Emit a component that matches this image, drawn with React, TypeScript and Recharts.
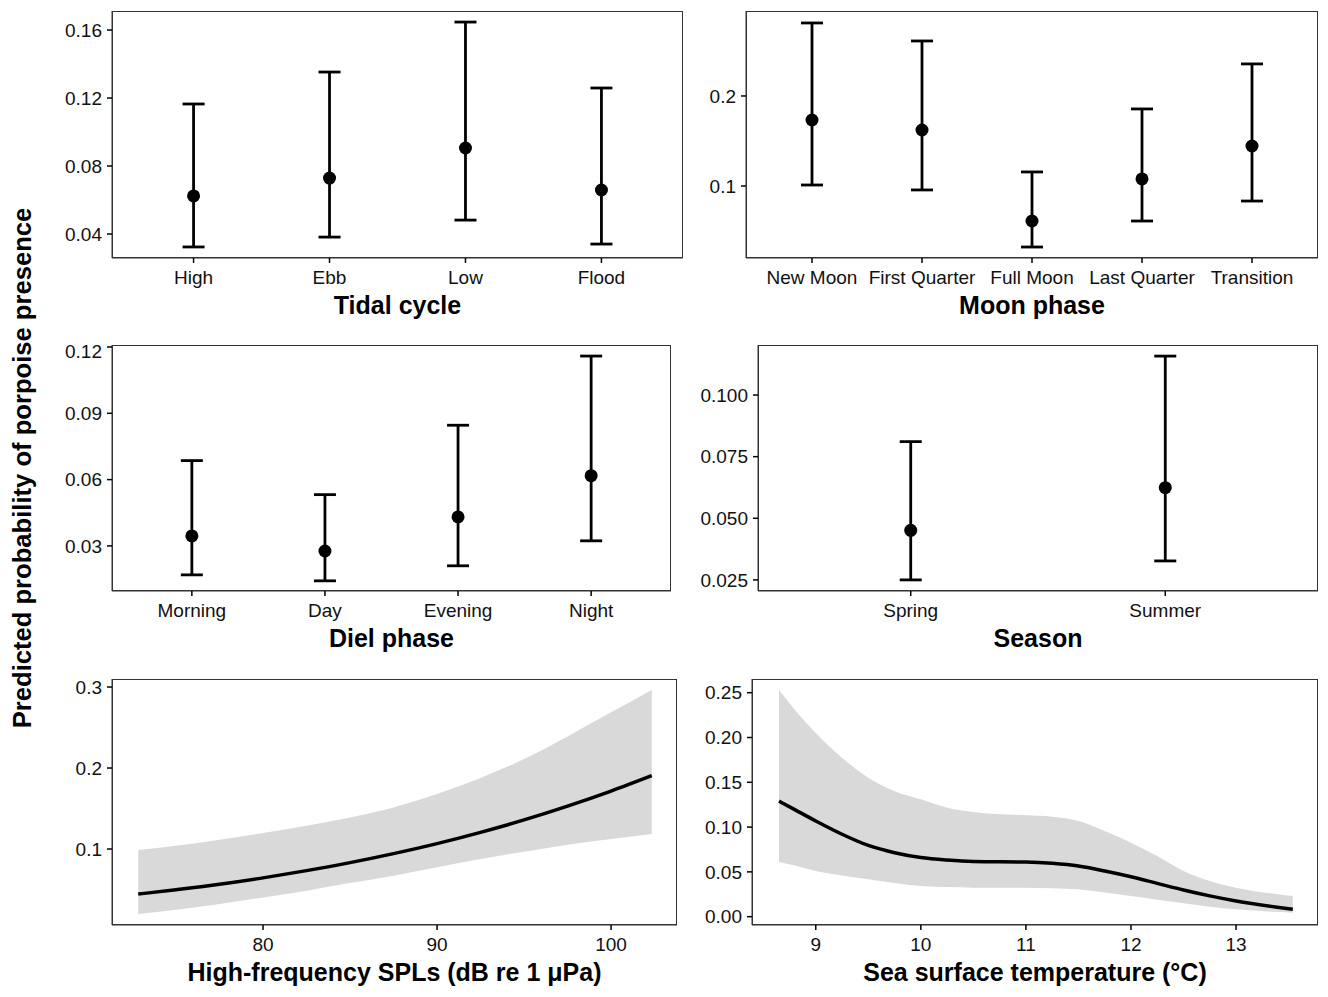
import React from "react"
import { ComposedChart, Scatter, ErrorBar, XAxis, YAxis, Area, Line } from "recharts"

// ---- categorical panels: fitted value with 95% CI ----
const tidalCats = ["High", "Ebb", "Low", "Flood"]
const tidalFit = [0.0624, 0.0729, 0.0906, 0.0659]
const tidalLower = [0.0324, 0.0382, 0.0482, 0.0341]
const tidalUpper = [0.1165, 0.1353, 0.1647, 0.1259]
const tidalTicks = [0.04, 0.08, 0.12, 0.16]

const moonCats = ["New Moon", "First Quarter", "Full Moon", "Last Quarter", "Transition"]
const moonFit = [0.1733, 0.1622, 0.0611, 0.1078, 0.1444]
const moonLower = [0.1011, 0.0956, 0.0322, 0.0611, 0.0833]
const moonUpper = [0.2811, 0.2611, 0.1156, 0.1856, 0.2356]
const moonTicks = [0.1, 0.2]

const dielCats = ["Morning", "Day", "Evening", "Night"]
const dielFit = [0.0345, 0.0277, 0.0431, 0.0618]
const dielLower = [0.0169, 0.0142, 0.021, 0.0323]
const dielUpper = [0.0686, 0.0532, 0.0846, 0.1159]
const dielTicks = [0.03, 0.06, 0.09, 0.12]

const seasonCats = ["Spring", "Summer"]
const seasonFit = [0.0451, 0.0624]
const seasonLower = [0.025, 0.0327]
const seasonUpper = [0.0811, 0.1158]
const seasonTicks = [0.025, 0.05, 0.075, 0.1]

// ---- continuous panels: smooth fit with ribbon ----
const splX = [72.83, 75, 77.5, 80, 82.5, 85, 87.5, 90, 92.5, 95, 97.5, 100, 102.34]
const splFit = [0.0444, 0.0498, 0.0565, 0.0644, 0.0733, 0.0832, 0.0943, 0.1067, 0.1206, 0.1359, 0.1529, 0.1715, 0.1905]
const splLow = [0.0198, 0.025, 0.0321, 0.0403, 0.0486, 0.058, 0.067, 0.0774, 0.0877, 0.0967, 0.1053, 0.1123, 0.1185]
const splHigh = [0.0988, 0.104, 0.1115, 0.1197, 0.1288, 0.139, 0.1514, 0.1679, 0.1877, 0.211, 0.239, 0.2687, 0.2963]
const splTicksY = [0.1, 0.2, 0.3]
const splTicksX = [80, 90, 100]

const sstX = [8.65, 8.8, 9, 9.25, 9.5, 9.75, 10, 10.25, 10.5, 11, 11.25, 11.5, 11.75, 12, 12.25, 12.5, 12.75, 13, 13.54]
const sstFit = [0.129, 0.1195, 0.1068, 0.092, 0.0795, 0.0714, 0.066, 0.0632, 0.0616, 0.061, 0.0595, 0.0565, 0.051, 0.0446, 0.0372, 0.0298, 0.0232, 0.0175, 0.0082]
const sstLow = [0.061, 0.057, 0.051, 0.046, 0.0417, 0.0375, 0.0342, 0.033, 0.0324, 0.0324, 0.0318, 0.0305, 0.027, 0.0231, 0.019, 0.0149, 0.0112, 0.0082, 0.0045]
const sstHigh = [0.253, 0.231, 0.205, 0.1774, 0.155, 0.14, 0.131, 0.1216, 0.1168, 0.1131, 0.1116, 0.1068, 0.0956, 0.0826, 0.0677, 0.051, 0.0398, 0.0324, 0.0231]
const sstTicksY = [0, 0.05, 0.1, 0.15, 0.2, 0.25]
const sstTicksX = [9, 10, 11, 12, 13]

const FONT = "'Liberation Sans', Arial, sans-serif"
const Y_W = 60
const X_H = 62
const TOP = 5
const RIGHT = 5

type Box = { x: number; y: number; w: number; h: number }

function Border({ box }: { box: Box }) {
  return (
    <div
      style={{
        position: "absolute",
        left: box.x,
        top: box.y,
        width: box.w,
        height: box.h,
        border: "1px solid #333",
        boxSizing: "border-box",
        pointerEvents: "none",
      }}
    />
  )
}

const tickStyle = { fontSize: 19, fill: "#111", fontFamily: FONT }
const titleStyle = { fontSize: 25, fontWeight: 700, fill: "#000", fontFamily: FONT }

function Dot(props: any) {
  return <circle cx={props.cx} cy={props.cy} r={6.5} fill="#000" />
}

function CatPanel(props: {
  box: Box
  cats: string[]
  fit: number[]
  lower: number[]
  upper: number[]
  ticks: number[]
  domain: [number, number]
  digits: number
  title: string
}) {
  const { box, cats, fit, lower, upper, ticks, domain, digits, title } = props
  const data = cats.map((c, i) => ({
    x: i + 1,
    y: fit[i],
    err: [fit[i] - lower[i], upper[i] - fit[i]],
  }))
  return (
    <>
      <div style={{ position: "absolute", left: box.x - Y_W, top: box.y - TOP }}>
        <ComposedChart
          width={Y_W + box.w + RIGHT}
          height={TOP + box.h + X_H}
          data={data}
          margin={{ top: TOP, right: RIGHT, bottom: 0, left: 0 }}
        >
          <XAxis
            dataKey="x"
            type="number"
            domain={[0.4, cats.length + 0.6]}
            ticks={cats.map((_, i) => i + 1)}
            tickFormatter={(v) => cats[v - 1]}
            allowDataOverflow
            height={X_H}
            tick={tickStyle}
            tickSize={5}
            tickMargin={8}
            tickLine={{ stroke: "#000", strokeWidth: 1.5 }}
            axisLine={{ stroke: "#333", strokeWidth: 1 }}
            interval={0}
            label={{ value: title, position: "insideBottom", offset: 6, style: titleStyle }}
          />
          <YAxis
            dataKey="y"
            type="number"
            domain={domain}
            ticks={ticks}
            allowDataOverflow
            width={Y_W}
            tick={tickStyle}
            tickSize={5}
            tickMargin={5}
            tickFormatter={(v) => Number(v).toFixed(digits)}
            tickLine={{ stroke: "#000", strokeWidth: 1.5 }}
            axisLine={{ stroke: "#333", strokeWidth: 1 }}
          />
          <Scatter dataKey="y" shape={Dot} isAnimationActive={false}>
            <ErrorBar dataKey="err" direction="y" width={11} strokeWidth={2.8} stroke="#000" />
          </Scatter>
        </ComposedChart>
      </div>
      <Border box={box} />
    </>
  )
}

function CurvePanel(props: {
  box: Box
  xs: number[]
  fit: number[]
  low: number[]
  high: number[]
  ticksX: number[]
  ticksY: number[]
  domainX: [number, number]
  domainY: [number, number]
  digits: number
  title: string
}) {
  const { box, xs, fit, low, high, ticksX, ticksY, domainX, domainY, digits, title } = props
  const data = xs.map((x, i) => ({ x, fit: fit[i], band: [low[i], high[i]] }))
  return (
    <>
      <div style={{ position: "absolute", left: box.x - Y_W, top: box.y - TOP }}>
        <ComposedChart
          width={Y_W + box.w + RIGHT}
          height={TOP + box.h + X_H}
          data={data}
          margin={{ top: TOP, right: RIGHT, bottom: 0, left: 0 }}
        >
          <XAxis
            dataKey="x"
            type="number"
            domain={domainX}
            ticks={ticksX}
            allowDataOverflow
            height={X_H}
            tick={tickStyle}
            tickSize={5}
            tickMargin={8}
            tickLine={{ stroke: "#000", strokeWidth: 1.5 }}
            axisLine={{ stroke: "#333", strokeWidth: 1 }}
            interval={0}
            label={{ value: title, position: "insideBottom", offset: 6, style: titleStyle }}
          />
          <YAxis
            type="number"
            domain={domainY}
            ticks={ticksY}
            allowDataOverflow
            width={Y_W}
            tick={tickStyle}
            tickSize={5}
            tickMargin={5}
            tickFormatter={(v) => Number(v).toFixed(digits)}
            tickLine={{ stroke: "#000", strokeWidth: 1.5 }}
            axisLine={{ stroke: "#333", strokeWidth: 1 }}
          />
          <Area
            type="monotone"
            dataKey="band"
            fill="#d9d9d9"
            fillOpacity={1}
            stroke="none"
            isAnimationActive={false}
          />
          <Line
            type="monotone"
            dataKey="fit"
            stroke="#000"
            strokeWidth={3.5}
            dot={false}
            isAnimationActive={false}
          />
        </ComposedChart>
      </div>
      <Border box={box} />
    </>
  )
}

export default function App() {
  return (
    <div
      style={{
        position: "absolute",
        left: 0,
        top: 0,
        width: 1328,
        height: 997,
        background: "#fff",
        fontFamily: FONT,
      }}
    >
      <div
        style={{
          position: "absolute",
          left: 22,
          top: 468,
          transform: "translate(-50%, -50%) rotate(-90deg)",
          whiteSpace: "nowrap",
          fontSize: 25.6,
          fontWeight: 700,
          color: "#000",
        }}
      >
        Predicted probability of porpoise presence
      </div>

      <CatPanel
        box={{ x: 112, y: 11, w: 571, h: 247 }}
        cats={tidalCats}
        fit={tidalFit}
        lower={tidalLower}
        upper={tidalUpper}
        ticks={tidalTicks}
        domain={[0.0259, 0.1712]}
        digits={2}
        title="Tidal cycle"
      />
      <CatPanel
        box={{ x: 746, y: 11, w: 572, h: 247 }}
        cats={moonCats}
        fit={moonFit}
        lower={moonLower}
        upper={moonUpper}
        ticks={moonTicks}
        domain={[0.02, 0.2944]}
        digits={1}
        title="Moon phase"
      />
      <CatPanel
        box={{ x: 112, y: 345, w: 559, h: 246 }}
        cats={dielCats}
        fit={dielFit}
        lower={dielLower}
        upper={dielUpper}
        ticks={dielTicks}
        domain={[0.0096, 0.1209]}
        digits={2}
        title="Diel phase"
      />
      <CatPanel
        box={{ x: 758, y: 345, w: 560, h: 246 }}
        cats={seasonCats}
        fit={seasonFit}
        lower={seasonLower}
        upper={seasonUpper}
        ticks={seasonTicks}
        domain={[0.0205, 0.1203]}
        digits={3}
        title="Season"
      />
      <CurvePanel
        box={{ x: 112, y: 679, w: 565, h: 246 }}
        xs={splX}
        fit={splFit}
        low={splLow}
        high={splHigh}
        ticksX={splTicksX}
        ticksY={splTicksY}
        domainX={[71.32, 103.79]}
        domainY={[0.0062, 0.3099]}
        digits={1}
        title="High-frequency SPLs (dB re 1 μPa)"
      />
      <CurvePanel
        box={{ x: 752, y: 679, w: 566, h: 246 }}
        xs={sstX}
        fit={sstFit}
        low={sstLow}
        high={sstHigh}
        ticksX={sstTicksX}
        ticksY={sstTicksY}
        domainX={[8.393, 13.78]}
        domainY={[-0.0093, 0.2653]}
        digits={2}
        title="Sea surface temperature (°C)"
      />
    </div>
  )
}
